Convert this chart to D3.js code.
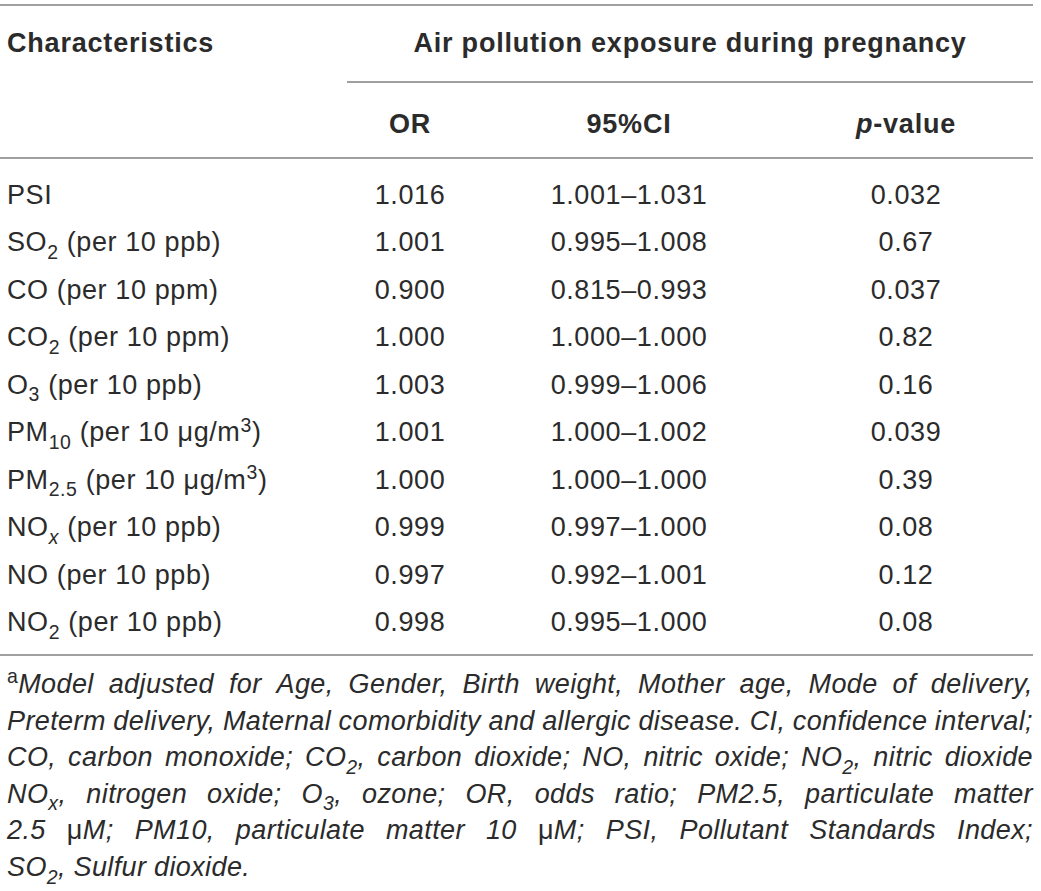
<!DOCTYPE html>
<html>
<head>
<meta charset="utf-8">
<script src="https://cdn.jsdelivr.net/npm/d3@7"></script>
<style>
  body { margin: 0; background: #fff; }
  svg { display: block; }
  text { font-family: "Liberation Sans", Arial, Helvetica, sans-serif; fill: #2b2b2b; }
</style>
</head>
<body>
<script>
// table content
// markup: ~x~ subscript, ^x^ superscript, _x_ italic subscript, *x* toggles italic
var characteristics = [
  "PSI",
  "SO~2~ (per 10 ppb)",
  "CO (per 10 ppm)",
  "CO~2~ (per 10 ppm)",
  "O~3~ (per 10 ppb)",
  "PM~10~ (per 10 μg/m^3^)",
  "PM~2.5~ (per 10 μg/m^3^)",
  "NO_x_ (per 10 ppb)",
  "NO (per 10 ppb)",
  "NO~2~ (per 10 ppb)"
];
var orValues = ["1.016", "1.001", "0.900", "1.000", "1.003", "1.001", "1.000", "0.999", "0.997", "0.998"];
var ciValues = ["1.001–1.031", "0.995–1.008", "0.815–0.993", "1.000–1.000", "0.999–1.006",
                "1.000–1.002", "1.000–1.000", "0.997–1.000", "0.992–1.001", "0.995–1.000"];
var pValues = ["0.032", "0.67", "0.037", "0.82", "0.16", "0.039", "0.39", "0.08", "0.12", "0.08"];

var columns = ["label", "or", "ci", "p"];
var columnHeaders = ["Characteristics", "OR", "95%CI", "*p*-value"];
var groupHeader = "Air pollution exposure during pregnancy";

var footnoteLines = [
  "^a^Model adjusted for Age, Gender, Birth weight, Mother age, Mode of delivery,",
  "Preterm delivery, Maternal comorbidity and allergic disease. CI, confidence interval;",
  "CO, carbon monoxide; CO~2~, carbon dioxide; NO, nitric oxide; NO~2~, nitric dioxide",
  "NO~x~, nitrogen oxide; O~3~, ozone; OR, odds ratio; PM2.5, particulate matter",
  "2.5 *μ*M; PM10, particulate matter 10 *μ*M; PSI, Pollutant Standards Index;",
  "SO~2~, Sulfur dioxide."
];

var W = 1041, H = 891;
var left = 7, right = 1033;

var svg = d3.select("body").append("svg")
    .attr("width", W)
    .attr("height", H);

// column centres
var colX = d3.scaleOrdinal()
    .domain(columns)
    .range([left, 410, 629, 906]);

var rowY = d3.scalePoint()
    .domain(d3.range(characteristics.length))
    .range([204, 631]);

var footY = d3.scalePoint()
    .domain(d3.range(footnoteLines.length))
    .range([693, 876]);

// write a marked up string into a <text> as tspans
function rich(textSel, str, fs, italic) {
  var parts = str.split(/(~[^~]*~|\^[^\^]*\^|_[^_]*_|\*[^*]*\*)/).filter(function(s) { return s.length; });
  var shift = 0;
  parts.forEach(function(p) {
    var t = p, size = fs, off = 0, it = italic;
    var m = p.charAt(0);
    if (m == "~") { t = p.slice(1, -1); size = fs * 0.72; off = fs * 0.28; }
    else if (m == "_") { t = p.slice(1, -1); size = fs * 0.72; off = fs * 0.28; it = true; }
    else if (m == "^") { t = p.slice(1, -1); size = fs * 0.72; off = -fs * 0.36; it = false; }
    else if (m == "*") { t = p.slice(1, -1); it = !italic; }
    textSel.append("tspan")
        .attr("dy", off - shift)
        .style("font-size", size + "px")
        .style("font-style", it ? "italic" : "normal")
        .text(t);
    shift = off;
  });
}

// rules
var rules = [
  {y: 5, x1: 0, x2: right},
  {y: 82, x1: 347, x2: right},
  {y: 158, x1: 0, x2: right},
  {y: 655, x1: 0, x2: right}
];
svg.selectAll("line.rule")
    .data(rules)
    .enter().append("line")
    .attr("class", "rule")
    .attr("x1", function(d) { return d.x1; })
    .attr("x2", function(d) { return d.x2; })
    .attr("y1", function(d) { return d.y; })
    .attr("y2", function(d) { return d.y; })
    .attr("stroke", "#808080")
    .attr("stroke-width", 1.5);

// headers
var headFs = 27;
svg.append("text")
    .attr("x", left)
    .attr("y", 52)
    .style("font-size", headFs + "px")
    .style("font-weight", "bold")
    .style("letter-spacing", "0.8px")
    .text(columnHeaders[0]);

svg.append("text")
    .attr("x", 690)
    .attr("y", 52)
    .attr("text-anchor", "middle")
    .style("font-size", headFs + "px")
    .style("font-weight", "bold")
    .style("letter-spacing", "0.8px")
    .text(groupHeader);

columns.slice(1).forEach(function(c, i) {
  var t = svg.append("text")
      .attr("x", colX(c))
      .attr("y", 133)
      .attr("text-anchor", "middle")
      .style("font-size", headFs + "px")
      .style("font-weight", "bold")
      .style("letter-spacing", "0.8px");
  rich(t, columnHeaders[i + 1], headFs, false);
});

// body rows
var bodyFs = 27;
var rows = svg.selectAll("g.row")
    .data(characteristics.map(function(d, i) {
      return {label: d, or: orValues[i], ci: ciValues[i], p: pValues[i], i: i};
    }))
    .enter().append("g")
    .attr("class", "row")
    .attr("transform", function(d) { return "translate(0," + rowY(d.i) + ")"; });

rows.each(function(d) {
  var g = d3.select(this);
  var t = g.append("text")
      .attr("x", colX("label"))
      .style("font-size", bodyFs + "px")
      .style("letter-spacing", "0.6px");
  rich(t, d.label, bodyFs, false);
  ["or", "ci", "p"].forEach(function(c) {
    g.append("text")
        .attr("x", colX(c))
        .attr("text-anchor", "middle")
        .style("font-size", bodyFs + "px")
        .style("letter-spacing", "0.6px")
        .text(d[c]);
  });
});

// footnote, justified
var footFs = 27;
var foot = svg.append("g").attr("class", "footnote");
footnoteLines.forEach(function(line, li) {
  var words = line.split(" ");
  var y = footY(li);
  var nodes = words.map(function(w) {
    var t = foot.append("text")
        .attr("y", y)
        .style("font-size", footFs + "px")
        .style("letter-spacing", "0.4px");
    rich(t, w, footFs, true);
    return t;
  });
  var widths = nodes.map(function(t) { return t.node().getComputedTextLength(); });
  var total = d3.sum(widths);
  var last = li == footnoteLines.length - 1;
  var gap = last ? footFs * 0.28 : (right - left - total) / (words.length - 1);
  var x = left;
  nodes.forEach(function(t, i) {
    t.attr("x", x);
    x += widths[i] + gap;
  });
});
</script>
</body>
</html>
